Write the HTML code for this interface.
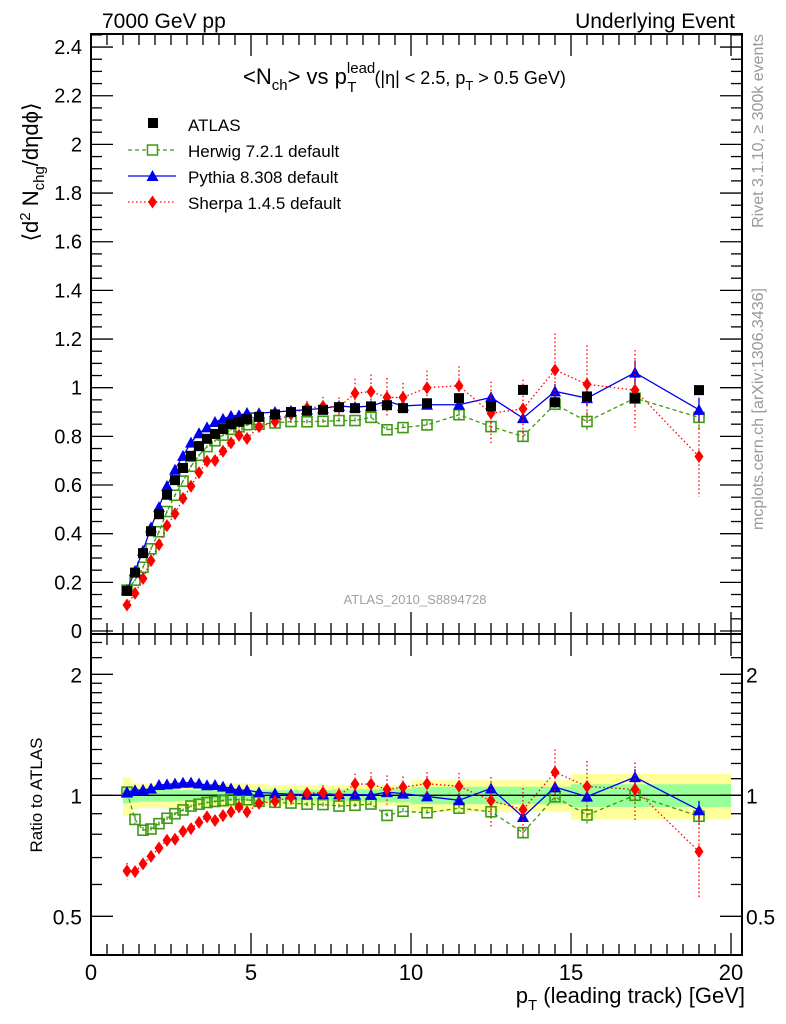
<!DOCTYPE html>
<html><head><meta charset="utf-8"><style>
body{margin:0;background:#fff}
svg{display:block;font-family:"Liberation Sans",sans-serif}
</style></head><body>
<svg id="chart" width="786" height="1024" viewBox="0 0 786 1024" xmlns="http://www.w3.org/2000/svg">
<defs>
<clipPath id="cm"><rect x="91" y="34" width="651" height="600"/></clipPath>
<clipPath id="cr"><rect x="91" y="634" width="651" height="321"/></clipPath>
</defs>
<g id="bands" clip-path="url(#cr)"></g>
<g id="series-r" clip-path="url(#cr)"></g>
<g id="series-m" clip-path="url(#cm)"></g>
<g id="axes"></g>
<text x="102" y="28" font-size="21">7000 GeV pp</text>
<text x="735" y="28" font-size="21" text-anchor="end">Underlying Event</text>
<text x="243" y="84" font-size="22">&lt;N<tspan font-size="15" dy="6">ch</tspan><tspan dy="-6">&gt; vs p</tspan><tspan font-size="15" dy="-11">lead</tspan><tspan font-size="15" dx="-28" dy="19">T</tspan><tspan font-size="18" dx="18" dy="-8">(|η| &lt; 2.5, p</tspan><tspan font-size="13" dy="6">T</tspan><tspan font-size="18" dy="-6"> &gt; 0.5 GeV)</tspan></text>
<text transform="translate(38,172) rotate(-90)" font-size="22" text-anchor="middle">⟨d<tspan font-size="15" dy="-8">2</tspan><tspan dy="8"> N</tspan><tspan font-size="15" dy="6">chg</tspan><tspan dy="-6">/dηdϕ⟩</tspan></text>
<text transform="translate(42,795) rotate(-90)" font-size="17" text-anchor="middle">Ratio to ATLAS</text>
<text x="745" y="1003" font-size="22" text-anchor="end">p<tspan font-size="15" dy="7">T</tspan><tspan dy="-7"> (leading track) [GeV]</tspan></text>
<text x="415" y="604" font-size="13" fill="#a0a0a0" text-anchor="middle">ATLAS_2010_S8894728</text>
<text transform="translate(763,131) rotate(-90)" font-size="16" fill="#999" text-anchor="middle">Rivet 3.1.10, ≥ 300k events</text>
<text transform="translate(763,409) rotate(-90)" font-size="16" fill="#999" text-anchor="middle">mcplots.cern.ch [arXiv:1306.3436]</text>
<g id="legend">
<g><rect x="148" y="118" width="10" height="10" fill="#000"/><text x="188" y="131" font-size="17">ATLAS</text></g>
<g><line x1="128" y1="150" x2="176" y2="150" stroke="#3e9a12" stroke-width="1.3" stroke-dasharray="4,3"/><rect x="147.5" y="145" width="10" height="10" fill="#fff" stroke="#3e9a12" stroke-width="1.5"/><text x="188" y="157" font-size="17">Herwig 7.2.1 default</text></g>
<g><line x1="128" y1="176" x2="176" y2="176" stroke="#0000ee" stroke-width="1.3"/><polygon points="152.5,170 158.5,181 146.5,181" fill="#0000ee"/><text x="188" y="183" font-size="17">Pythia 8.308 default</text></g>
<g><line x1="128" y1="202" x2="176" y2="202" stroke="#ff0000" stroke-width="1.3" stroke-dasharray="1.5,2.5"/><polygon points="152.5,195.5 157,202 152.5,208.5 148,202" fill="#ff0000"/><text x="188" y="209" font-size="17">Sherpa 1.4.5 default</text></g>
</g>
</svg>
<script>
const binEdges=[1,1.25,1.5,1.75,2,2.25,2.5,2.75,3,3.25,3.5,3.75,4,4.25,4.5,4.75,5,5.5,6,6.5,7,7.5,8,8.5,9,9.5,10,11,12,13,14,15,16,18,20];
const atlasVals=[0.165,0.24,0.32,0.41,0.48,0.56,0.62,0.67,0.72,0.76,0.79,0.81,0.83,0.85,0.86,0.87,0.88,0.89,0.90,0.905,0.909,0.92,0.916,0.923,0.928,0.916,0.936,0.957,0.923,0.991,0.94,0.964,0.957,0.99];
const atlasTotRel=[0.11,0.075,0.07,0.07,0.07,0.07,0.07,0.07,0.07,0.07,0.07,0.07,0.07,0.07,0.07,0.07,0.065,0.06,0.06,0.06,0.06,0.06,0.06,0.06,0.06,0.06,0.09,0.09,0.09,0.09,0.09,0.13,0.13,0.13];
const atlasStatRel=[0.045,0.04,0.035,0.035,0.035,0.035,0.035,0.03,0.03,0.03,0.03,0.03,0.03,0.03,0.03,0.03,0.03,0.03,0.03,0.03,0.03,0.035,0.035,0.035,0.04,0.04,0.05,0.05,0.05,0.05,0.05,0.065,0.065,0.065];
const herwigVals=[0.168,0.209,0.262,0.338,0.408,0.491,0.558,0.616,0.677,0.722,0.758,0.782,0.805,0.829,0.839,0.848,0.85,0.855,0.861,0.86,0.862,0.865,0.865,0.878,0.827,0.836,0.847,0.889,0.84,0.80,0.932,0.861,0.957,0.878];
const herwigErr=[0.005,0.005,0.005,0.005,0.005,0.005,0.005,0.005,0.005,0.005,0.005,0.005,0.005,0.005,0.006,0.006,0.008,0.008,0.01,0.01,0.01,0.012,0.012,0.014,0.014,0.015,0.015,0.02,0.025,0.025,0.03,0.04,0.04,0.05];
const pythiaVals=[0.168,0.247,0.33,0.426,0.509,0.596,0.663,0.72,0.774,0.813,0.837,0.859,0.872,0.884,0.886,0.896,0.895,0.90,0.905,0.91,0.915,0.925,0.92,0.925,0.945,0.925,0.93,0.93,0.96,0.875,0.985,0.957,1.062,0.909];
const pythiaErr=[0.003,0.003,0.003,0.003,0.003,0.003,0.003,0.003,0.003,0.003,0.003,0.003,0.004,0.004,0.004,0.004,0.005,0.005,0.006,0.006,0.007,0.008,0.008,0.009,0.01,0.01,0.01,0.012,0.02,0.02,0.03,0.03,0.05,0.05];
const sherpaVals=[0.107,0.155,0.216,0.289,0.355,0.433,0.482,0.545,0.595,0.651,0.698,0.701,0.739,0.773,0.804,0.791,0.84,0.86,0.891,0.916,0.923,0.92,0.977,0.984,0.96,0.96,1.0,1.008,0.895,0.913,1.073,1.014,0.99,0.717];
const sherpaErr=[0.005,0.005,0.005,0.005,0.005,0.005,0.005,0.006,0.006,0.006,0.007,0.007,0.008,0.008,0.01,0.01,0.01,0.012,0.02,0.03,0.04,0.04,0.06,0.07,0.08,0.06,0.07,0.08,0.13,0.12,0.15,0.16,0.165,0.165];
const mainTicks=["0","0.2","0.4","0.6","0.8","1","1.2","1.4","1.6","1.8","2","2.2","2.4"];
const ratioMajor=[0.5,1,2];
const ratioMinor=[0.4,0.6,0.7,0.8,0.9,1.1,1.2,1.3,1.4,1.5,1.6,1.7,1.8,1.9,2.2,2.4];
const xTicks=["0","5","10","15","20"];

const NS="http://www.w3.org/2000/svg";
const X=v=>91+32*v, Y=v=>631-243.3*v, R=r=>795.3-121*Math.log2(r);
function mk(tag,attrs,parent){const e=document.createElementNS(NS,tag);for(const k in attrs)e.setAttribute(k,attrs[k]);parent.appendChild(e);return e;}
const centers=binEdges.slice(0,-1).map((e,i)=>(e+binEdges[i+1])/2);

const bands=document.getElementById('bands');
function band(rel,color,name){let top="",bot="";
 for(let i=0;i<rel.length;i++){const a=X(binEdges[i]),b=X(binEdges[i+1]);top+=`${a},${R(1+rel[i])} ${b},${R(1+rel[i])} `;bot=`${b},${R(1-rel[i])} ${a},${R(1-rel[i])} `+bot;}
 const p=mk('polygon',{points:top+bot,fill:color},bands);
 
 }
band(atlasTotRel,'#ffff99','atlas-total-band');
band(atlasStatRel,'#99ff99','atlas-stat-band');
const one=mk('line',{x1:91,x2:742,y1:R(1),y2:R(1),stroke:'#000','stroke-width':1.3},bands);



function marker(g,type,cx,cy,color){let m;
 if(type==='sq')m=mk('rect',{x:cx-5,y:cy-5,width:10,height:10,fill:'#000'},g);
 else if(type==='osq')m=mk('rect',{x:cx-5,y:cy-5,width:10,height:10,fill:'none',stroke:color,'stroke-width':1.6},g);
 else if(type==='tri')m=mk('polygon',{points:`${cx},${cy-6} ${cx+6},${cy+5} ${cx-6},${cy+5}`,fill:color},g);
 else m=mk('polygon',{points:`${cx},${cy-6.5} ${cx+4.5},${cy} ${cx},${cy+6.5} ${cx-4.5},${cy}`,fill:color},g);
 
 }
function series(parent,vals,errs,color,dash,type,name,ratio){
 const g=mk('g',{},parent);
 
 
 const fy=(v,i)=>ratio?R(v/atlasVals[i]):Y(v);
 if(color){const pts=vals.map((v,i)=>`${X(centers[i])},${fy(v,i)}`).join(' ');
  const a={points:pts,fill:'none',stroke:color,'stroke-width':1.3};if(dash)a['stroke-dasharray']=dash;
  const l=mk('polyline',a,g);
  
  
  vals.forEach((v,i)=>{const cx=X(centers[i]);const e={x1:cx,x2:cx,y1:fy(v+errs[i],i),y2:fy(v-errs[i],i),stroke:color,'stroke-width':1.3};if(dash)e['stroke-dasharray']=dash;
   const eb=mk('line',e,g);
   
   });}
 vals.forEach((v,i)=>marker(g,type,X(centers[i]),fy(v,i),color));}
const sm=document.getElementById('series-m'),sr=document.getElementById('series-r');
series(sm,herwigVals,herwigErr,'#3e9a12','4,3','osq','herwig-series',false);
series(sm,pythiaVals,pythiaErr,'#0000ee',null,'tri','pythia-series',false);
series(sm,sherpaVals,sherpaErr,'#ff0000','1.5,2.5','dia','sherpa-series',false);
series(sm,atlasVals,atlasVals.map(()=>0),null,null,'sq','atlas-data',false);
series(sr,herwigVals,herwigErr,'#3e9a12','4,3','osq','herwig-ratio',true);
series(sr,pythiaVals,pythiaErr,'#0000ee',null,'tri','pythia-ratio',true);
series(sr,sherpaVals,sherpaErr,'#ff0000','1.5,2.5','dia','sherpa-ratio',true);

const ax=document.getElementById('axes');
const ln=(x1,y1,x2,y2,w)=>mk('line',{x1,y1,x2,y2,stroke:'#000','stroke-width':w||1.3},ax);
const fr1=mk('rect',{x:91,y:34,width:651,height:600,fill:'none',stroke:'#000','stroke-width':2},ax);


const fr2=mk('rect',{x:91,y:634,width:651,height:321,fill:'none',stroke:'#000','stroke-width':2},ax);


for(let v=0;v<=2.45;v+=0.05){const k=Math.round(v*20);const L=k%4===0?22:11;const y=Y(v);if(y<34)continue;ln(91,y,91+L,y);ln(742,y,742-L,y);}
mainTicks.forEach((t,i)=>{const tx=mk('text',{x:82,y:Y(i*0.2)+7,'font-size':20,'text-anchor':'end'},ax);tx.textContent=t;
 
 });
ratioMinor.forEach(r=>{ln(91,R(r),102,R(r));ln(742,R(r),731,R(r));});
ratioMajor.forEach(r=>{ln(91,R(r),113,R(r));ln(742,R(r),720,R(r));
 [82,746].forEach((x,j)=>{const tx=mk('text',{x,y:R(r)+8,'font-size':21,'text-anchor':j?'start':'end'},ax);tx.textContent=String(r);
 
 });});
for(let k=0;k<=40;k++){const x=X(k*0.5);if(x>742)break;const L=k%10===0?22:11;
 ln(x,34,x,34+L);ln(x,634,x,634-L);ln(x,634,x,634+L);ln(x,955,x,955-L);}
xTicks.forEach((t,i)=>{const tx=mk('text',{x:X(i*5),y:980,'font-size':22,'text-anchor':'middle'},ax);tx.textContent=t;
 
 });
</script>
</body></html>
